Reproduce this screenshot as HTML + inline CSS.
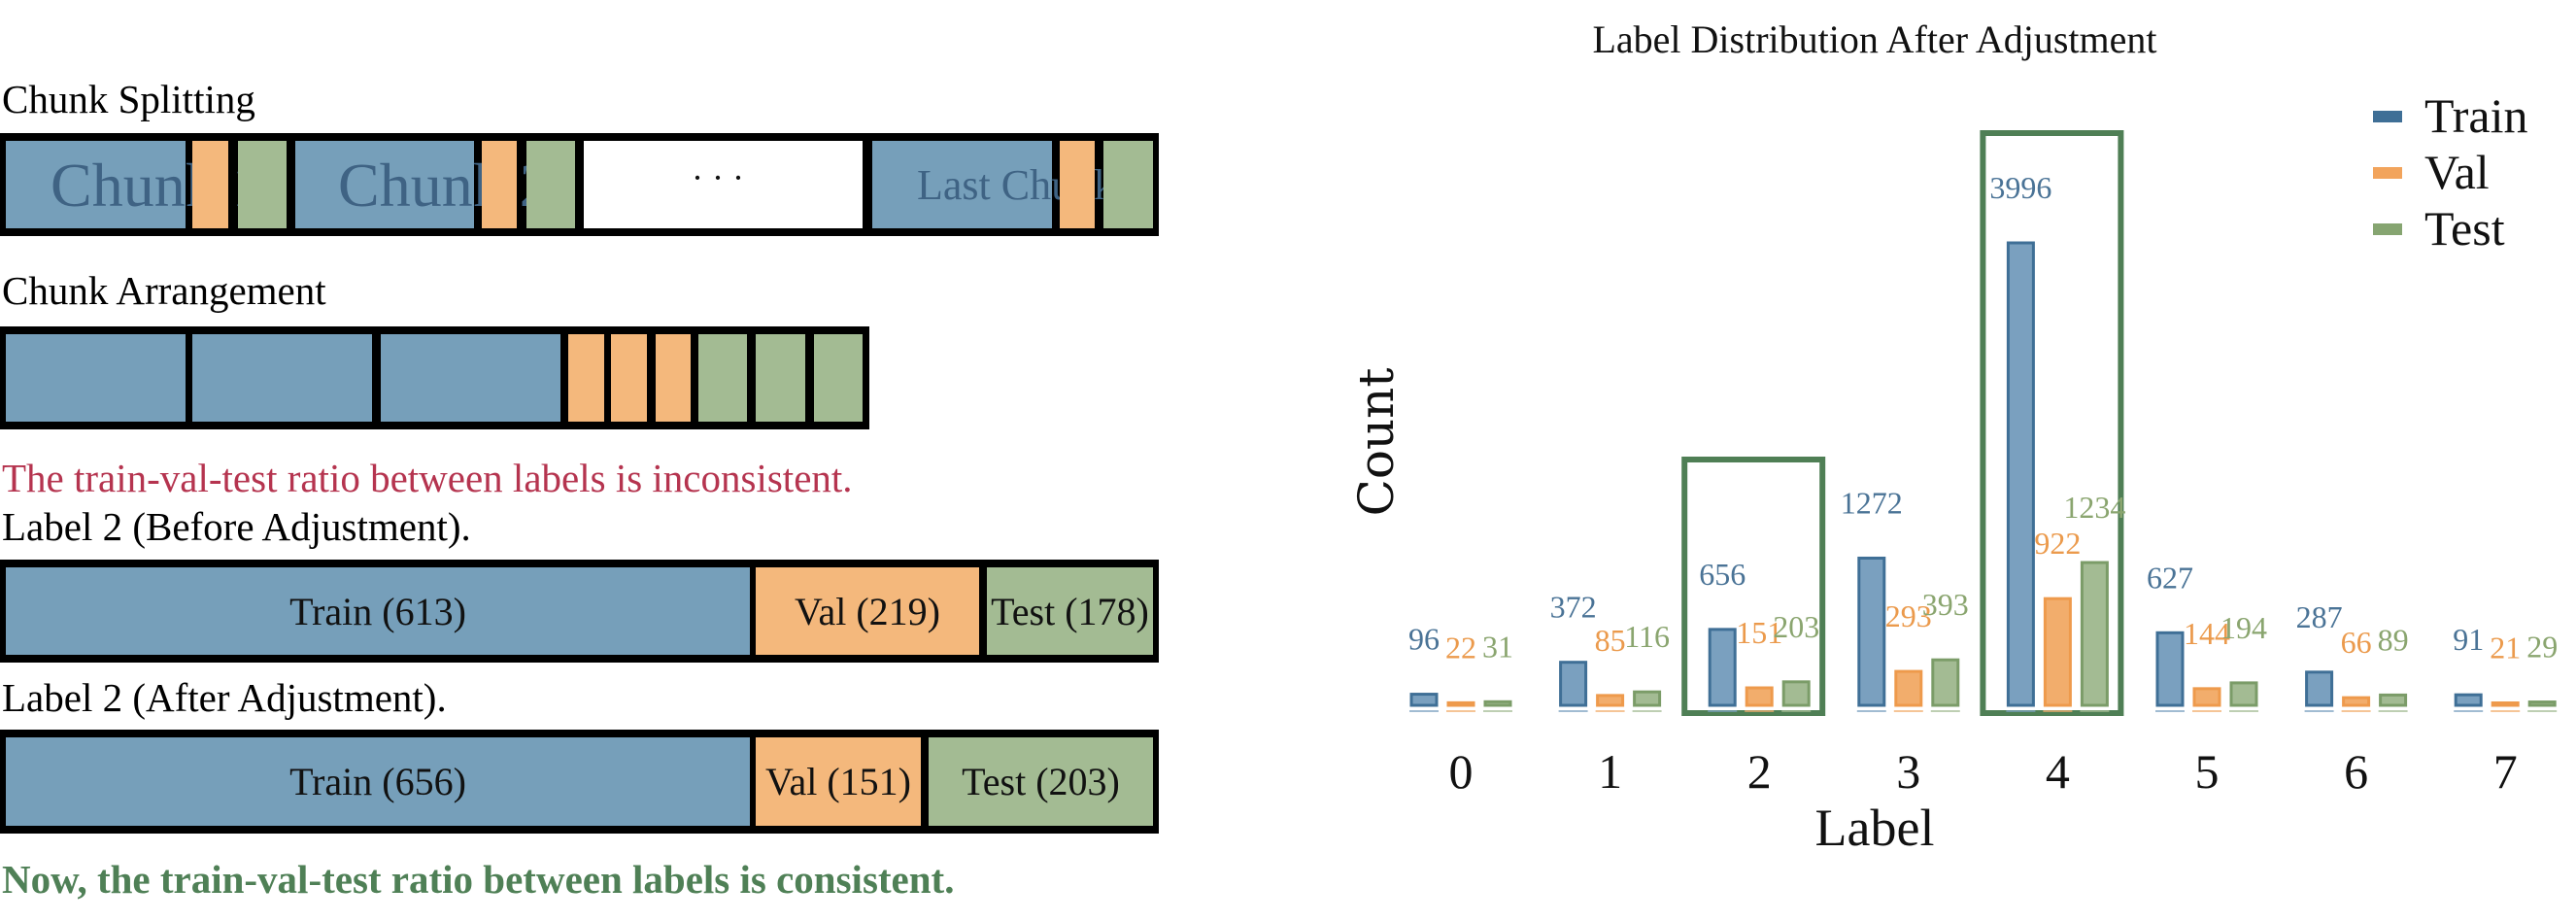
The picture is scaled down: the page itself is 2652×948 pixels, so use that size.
<!DOCTYPE html>
<html><head><meta charset="utf-8">
<style>
body{margin:0;background:#fff;width:2652px;height:948px;overflow:hidden;position:relative;font-family:"Liberation Serif","DejaVu Serif",serif;}
.t{position:absolute;white-space:nowrap;line-height:1;}
.bar{position:absolute;background:#000;}
.seg{position:absolute;}
.b{background:#769fba}.o{background:#f4b87c}.g{background:#a3bb93}.w{background:#fff}
.lbl{position:absolute;display:flex;align-items:center;justify-content:center;font-size:40px;color:#111;white-space:nowrap;}
</style></head><body>
<div class="t" style="left:2px;top:82px;font-size:41px">Chunk Splitting</div>
<div class="bar" style="left:0;top:137px;width:1193px;height:106px">
  <div class="seg b" style="left:6px;top:8px;width:185px;height:90px"></div>
  <div class="seg b" style="left:304px;top:8px;width:184px;height:90px"></div>
  <div class="seg w" style="left:601px;top:8px;width:287px;height:90px"></div>
  <div class="seg b" style="left:898px;top:8px;width:185px;height:90px"></div>
  <div class="t" style="left:52px;top:22px;font-size:64px;color:#3f6384">Chunk 1</div>
  <div class="t" style="left:348px;top:22px;font-size:64px;color:#3f6384">Chunk 2</div>
  <div class="t" style="left:712px;top:28px;font-size:36px;color:#111">· · ·</div>
  <div class="t" style="left:944px;top:32px;font-size:44px;color:#3f6384">Last Chunk</div>
  <div class="seg o" style="left:198px;top:8px;width:37px;height:90px"></div>
  <div class="seg g" style="left:245px;top:8px;width:50px;height:90px"></div>
  <div class="seg o" style="left:496px;top:8px;width:36px;height:90px"></div>
  <div class="seg g" style="left:542px;top:8px;width:50px;height:90px"></div>
  <div class="seg o" style="left:1091px;top:8px;width:36px;height:90px"></div>
  <div class="seg g" style="left:1136px;top:8px;width:51px;height:90px"></div>
</div>
<div class="t" style="left:2px;top:279px;font-size:41px">Chunk Arrangement</div>
<div class="bar" style="left:0;top:336px;width:895px;height:106px">
  <div class="seg b" style="left:6px;top:8px;width:185px;height:90px"></div>
  <div class="seg b" style="left:198px;top:8px;width:185px;height:90px"></div>
  <div class="seg b" style="left:392px;top:8px;width:185px;height:90px"></div>
  <div class="seg o" style="left:585px;top:8px;width:37px;height:90px"></div>
  <div class="seg o" style="left:629px;top:8px;width:37px;height:90px"></div>
  <div class="seg o" style="left:675px;top:8px;width:36px;height:90px"></div>
  <div class="seg g" style="left:719px;top:8px;width:50px;height:90px"></div>
  <div class="seg g" style="left:778px;top:8px;width:51px;height:90px"></div>
  <div class="seg g" style="left:838px;top:8px;width:50px;height:90px"></div>
</div>
<div class="t" style="left:2px;top:472px;font-size:41px;color:#b5344f">The train-val-test ratio between labels is inconsistent.</div>
<div class="t" style="left:2px;top:522px;font-size:41px">Label 2 (Before Adjustment).</div>
<div class="bar" style="left:0;top:576px;width:1193px;height:106px">
  <div class="seg b lbl" style="left:6px;top:8px;width:766px;height:90px">Train (613)</div>
  <div class="seg o lbl" style="left:778px;top:8px;width:230px;height:90px">Val (219)</div>
  <div class="seg g lbl" style="left:1016px;top:8px;width:171px;height:90px">Test (178)</div>
</div>
<div class="t" style="left:2px;top:698px;font-size:41px">Label 2 (After Adjustment).</div>
<div class="bar" style="left:0;top:751px;width:1193px;height:107px">
  <div class="seg b lbl" style="left:6px;top:8px;width:766px;height:91px">Train (656)</div>
  <div class="seg o lbl" style="left:778px;top:8px;width:170px;height:91px">Val (151)</div>
  <div class="seg g lbl" style="left:956px;top:8px;width:231px;height:91px">Test (203)</div>
</div>
<div class="t" style="left:2px;top:885px;font-size:41px;color:#4f8056;font-weight:bold">Now, the train-val-test ratio between labels is consistent.</div>

<svg id="chart" style="position:absolute;left:0;top:0" width="2652" height="948" xmlns="http://www.w3.org/2000/svg"></svg>
<script>
const categories=["0","1","2","3","4","5","6","7"];
const trainVals=[96,372,656,1272,3996,627,287,91];
const valVals=[22,85,151,293,922,144,66,21];
const testVals=[31,116,203,393,1234,194,89,29];
const highlighted=[2,4];
const svg=document.getElementById('chart');
const NS="http://www.w3.org/2000/svg";
const baseY=726, yScale=(726-250)/3996;
const x0=1504, step=153.6;
function xPos(i){return x0+i*step;}
function yPos(v){return baseY-v*yScale;}
function mk(tag,attrs,txt){const e=document.createElementNS(NS,tag);for(const k in attrs)e.setAttribute(k,attrs[k]);if(txt!==undefined)e.textContent=txt;svg.appendChild(e);return e;}
const series=[
 {name:"train",vals:trainVals,off:-38,fill:"#7aa0bf",stroke:"#3f6f96",tc:"#4a7396"},
 {name:"val",vals:valVals,off:0,fill:"#f2ad6c",stroke:"#ee9a4c",tc:"#eb9a4c"},
 {name:"test",vals:testVals,off:38,fill:"#a3bb93",stroke:"#7b9c68",tc:"#8aa56f"}];
const bw=26;
highlighted.forEach(i=>{
  const top=Math.min(yPos(Math.max(trainVals[i],valVals[i],testVals[i]))-113,473);
  const r=mk('rect',{x:xPos(i)-77,y:top,width:142,height:734-top,fill:"none",stroke:"#4f7f55","stroke-width":6});
  
  
});
categories.forEach((c,i)=>{
  series.forEach(s=>{
    const v=s.vals[i], cx=xPos(i)+s.off;
    mk('line',{x1:cx-bw/2-2,x2:cx+bw/2+2,y1:baseY+6,y2:baseY+6,stroke:s.fill,"stroke-width":2,opacity:0.7});
    const r=mk('rect',{x:cx-bw/2,y:yPos(v),width:bw,height:v*yScale,fill:s.fill,stroke:s.stroke,"stroke-width":3});
    
    
    const t=mk('text',{x:cx,y:yPos(v)-46,"text-anchor":"middle","font-size":32,fill:s.tc,"font-family":"Liberation Serif, serif"},String(v));
    
    
  });
  const tk=mk('text',{x:xPos(i),y:811,"text-anchor":"middle","font-size":50,fill:"#111","font-family":"Liberation Serif, serif"},c);
  
  
});
const title=mk('text',{x:1930,y:54,"text-anchor":"middle","font-size":40,fill:"#111","font-family":"Liberation Serif, serif"},"Label Distribution After Adjustment");


const xt=mk('text',{x:1930,y:870,"text-anchor":"middle","font-size":54,fill:"#111","font-family":"Liberation Serif, serif"},"Label");


const yt=mk('text',{x:0,y:0,"text-anchor":"middle","font-size":50,fill:"#111","font-family":"DejaVu Serif, serif",transform:"translate(1434,455) rotate(-90)"},"Count");


const leg=[["Train","#3f6f96"],["Val","#f2a45c"],["Test","#86a571"]];
leg.forEach((l,k)=>{
  const y=120+k*58;
  const p=mk('rect',{x:2443,y:y-6,width:30,height:12,fill:l[1]});
  
  
  const t=mk('text',{x:2496,y:y+16,"font-size":50,fill:"#111","font-family":"Liberation Serif, serif"},l[0]);
  
  
});
</script>
</body></html>
